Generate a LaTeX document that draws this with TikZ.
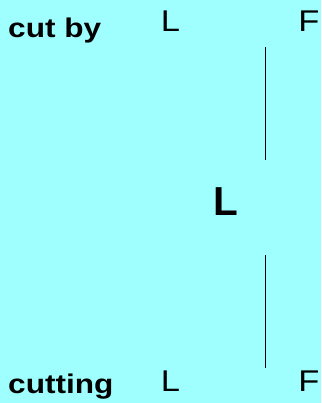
\documentclass[tikz,border=0pt]{standalone}
\usepackage{fontspec}
\setmainfont{Liberation Sans}
\newfontfamily\cutfont{Liberation Sans Bold}[FakeStretch=1.17]
\newfontfamily\endfont{Liberation Sans}[FakeStretch=1.15]
\newfontfamily\midfont{Liberation Sans Bold}
\definecolor{bgcyan}{RGB}{159,255,255}
\usepackage{tikz}

\begin{document}
\begin{tikzpicture}[
      x=1pt, y=-1pt,
      txt/.style    = {inner sep=0pt, anchor=base west, text=black},
      word/.style   = {txt, font=\cutfont\fontsize{27}{30}\selectfont},
      side/.style   = {txt, font=\endfont\fontsize{30}{34}\selectfont},
      mid/.style    = {txt, font=\midfont\fontsize{40.5}{44}\selectfont},
      rule/.style   = {line width=1pt, black},
    ]
    \fill[bgcyan] (0,0) rectangle (321,403);

    \node[word] (cutby)   at (8,38)        {cut by};
    \node[side] (topL)    at (160.7,31.7)  {L};
    \node[side] (topF)    at (298.2,31.7)  {F};
    \node[mid]  (centerL) at (213,215)     {L};
    \node[word] (cutting) at (8,393)       {cutting};
    \node[side] (botL)    at (160.7,391.7) {L};
    \node[side] (botF)    at (298.2,391.7) {F};

    \coordinate (upA) at (265.5,47);
    \coordinate (upB) at (265.5,160.5);
    \coordinate (dnA) at (265.5,255);
    \coordinate (dnB) at (265.5,368);

    \draw[rule] (upA) -- (upB);
    \draw[rule] (dnA) -- (dnB);
  \end{tikzpicture}
\end{document}
